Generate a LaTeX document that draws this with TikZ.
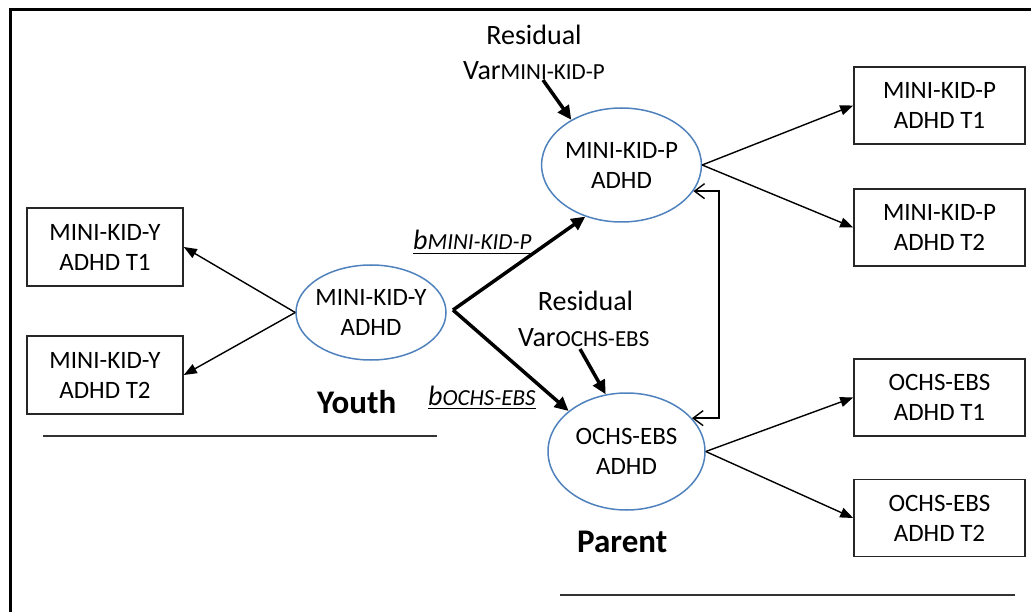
\documentclass[tikz,border=0pt]{standalone}
\usepackage{fontspec}
\setmainfont{Carlito}
\usepackage{tikz}
\usetikzlibrary{shapes.geometric}
\usetikzlibrary{arrows.meta}
\definecolor{latentblue}{RGB}{79,129,189}
\newcommand{\boxfont}{\fontsize{25}{30}\selectfont}
\newcommand{\labfont}{\fontsize{28}{32}\selectfont}
\newcommand{\subfont}{\fontsize{23}{26}\selectfont}

\begin{document}
\begin{tikzpicture}[x=1pt, y=-1pt,
	obs/.style={draw=black!85, line width=1.6pt, minimum width=171pt, minimum height=77pt, align=center, font=\boxfont, inner sep=0pt},
	latent/.style={ellipse, draw=latentblue, line width=1.5pt, align=center, font=\boxfont, inner sep=0pt},
	loading/.style={line width=1.4pt, -{Triangle[length=13pt,width=10pt]}},
	regress/.style={line width=3.5pt, -{Triangle[length=14pt,width=13pt]}},
	covar/.style={line width=1.4pt, {Straight Barb[length=10pt,width=15pt]}-{Straight Barb[length=10pt,width=15pt]}},
	lab/.style={inner sep=0pt, font=\labfont},
	grouplab/.style={inner sep=0pt, font=\fontsize{33}{38}\selectfont\bfseries},
	rule/.style={line width=1.8pt, black!80}]
	\useasboundingbox (0,0) rectangle (1031,612);
	\draw[line width=3pt] (10.5,612) -- (10.5,9.5) -- (1031,9.5);

	\node[latent, minimum width=150pt, minimum height=95pt, inner xsep=-5pt] (kidy) at (371,312.5) {MINI-KID-Y\\ADHD};
	\node[latent, minimum width=157pt, minimum height=114pt] (kidp) at (621.5,165) {MINI-KID-P\\ADHD};
	\node[latent, minimum width=157pt, minimum height=117pt] (ochs) at (626.5,451.5) {OCHS-EBS\\ADHD};

	\node[obs, minimum width=156pt, minimum height=78pt] (y1) at (105,247) {MINI-KID-Y\\ADHD T1};
	\node[obs, minimum width=156pt, minimum height=78pt] (y2) at (105,375) {MINI-KID-Y\\ADHD T2};
	\node[obs] (p1) at (939.5,105.5) {MINI-KID-P\\ADHD T1};
	\node[obs] (p2) at (939.5,227.5) {MINI-KID-P\\ADHD T2};
	\node[obs] (e1) at (939.5,397.5) {OCHS-EBS\\ADHD T1};
	\node[obs] (e2) at (939.5,518) {OCHS-EBS\\ADHD T2};

	\node[lab, anchor=base] (resp) at (534,45) {Residual};
	\node[lab, anchor=base west] (varp) at (463,80) {Var{\subfont MINI-KID-P}};
	\node[lab, anchor=base] (reso) at (585.5,311) {Residual};
	\node[lab, anchor=base west] (varo) at (518,347) {Var{\subfont OCHS-EBS}};
	\node[lab, anchor=base west, font=\labfont\itshape] (bp) at (413,250) {b{\subfont MINI-KID-P}};
	\node[lab, anchor=base west, font=\labfont\itshape] (bo) at (428,405) {b{\subfont OCHS-EBS}};
	\draw[line width=1.3pt] ([yshift=-3.5pt]bp.base west) -- ([yshift=-3.5pt]bp.base east);
	\draw[line width=1.3pt] ([yshift=-3.5pt]bo.base west) -- ([yshift=-3.5pt]bo.base east);

	\node[grouplab, anchor=base west] (youth) at (317,413) {Youth};
	\node[grouplab, anchor=base west] (parent) at (577,552) {Parent};
	\draw[rule] (43,436) -- (437,436);
	\draw[rule] (560,595) -- (1015,595);

	\draw[loading] (kidy.west) -- (y1.east);
	\draw[loading] (kidy.west) -- (y2.east);
	\draw[loading] (kidp.east) -- (p1.west);
	\draw[loading] (kidp.east) -- (p2.west);
	\draw[loading] (ochs.east) -- (e1.west);
	\draw[loading] (ochs.east) -- (e2.west);

	\coordinate (fork) at (453,310);
	\draw[regress] (fork) -- (kidp.235);
	\draw[regress] (fork) -- (ochs.145);

	\coordinate (rvp) at (543,80);
	\coordinate (rvo) at (580,349);
	\draw[regress] (rvp) -- (kidp.138);
	\draw[regress] (rvo) -- (ochs.110);

	\coordinate (cov) at (719,300);
	\draw[covar] (kidp.-20) -- (kidp.-20 -| cov) -- (ochs.27 -| cov) -- (ochs.27);
\end{tikzpicture}
\end{document}
